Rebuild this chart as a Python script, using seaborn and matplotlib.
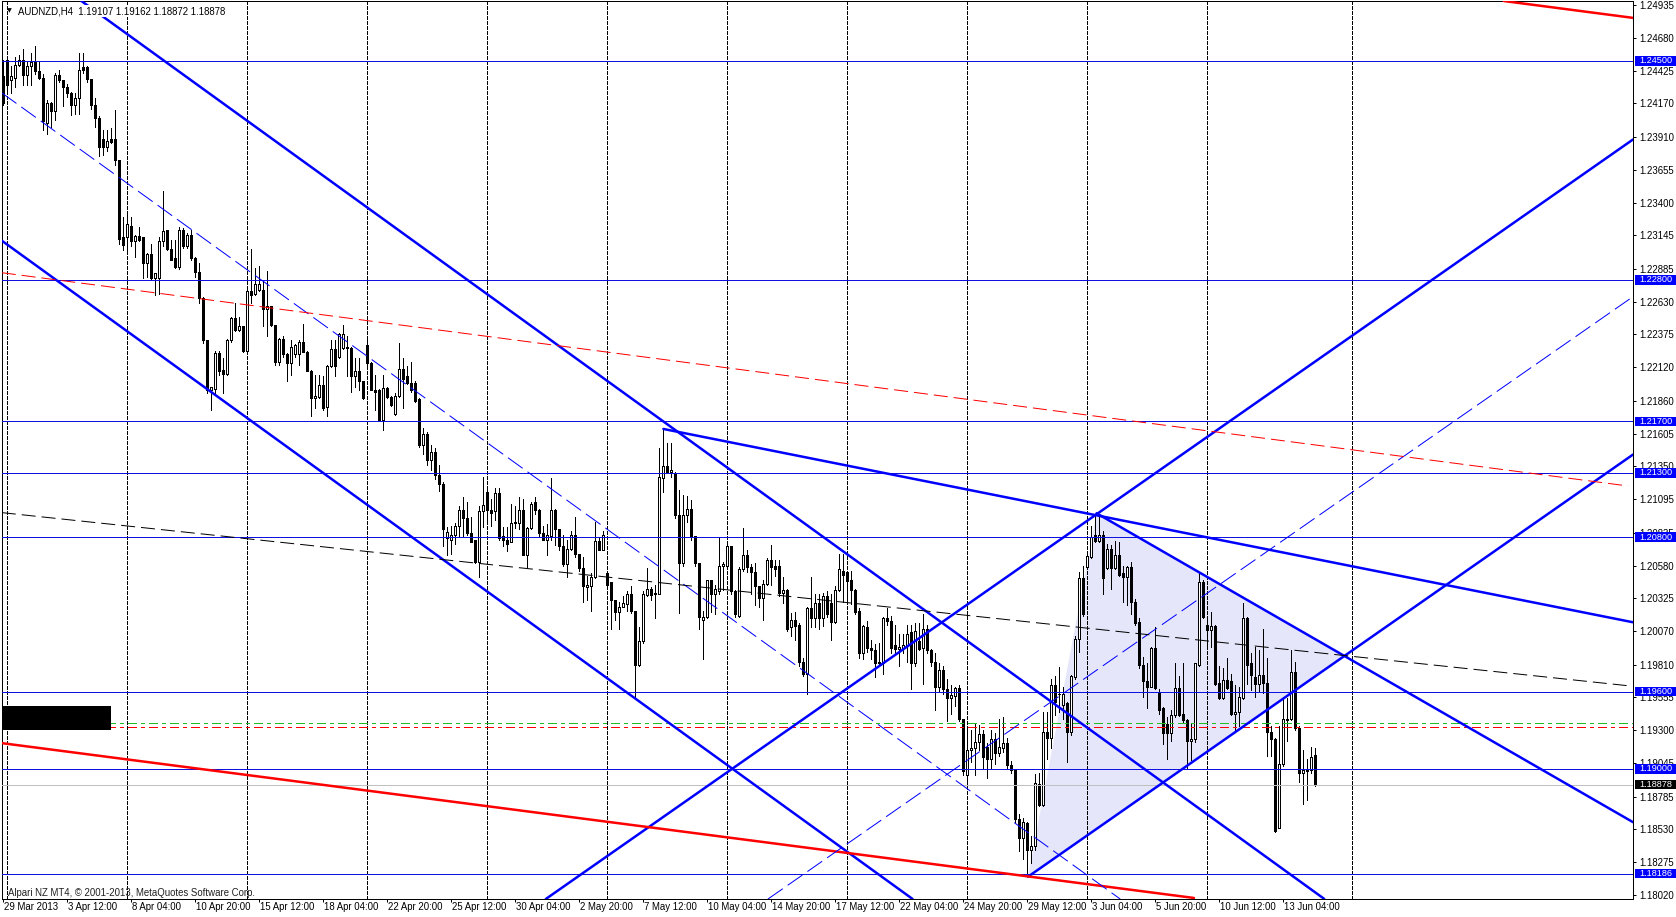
import numpy as np
import pandas as pd
import matplotlib
matplotlib.use("Agg")
import matplotlib.pyplot as plt
import matplotlib.transforms as mtransforms
from matplotlib.patches import Polygon, Rectangle
import seaborn as sns

# AUDNZD H4 candles, values in pips above BASE
BASE = 1.1800
opens = [
    638, 651, 635, 637, 647, 651, 639, 646, 649, 642,
    637, 602, 617, 611, 639, 635, 630, 625, 616, 621,
    645, 645, 636, 616, 606, 589, 583, 589, 589, 573,
    513, 513, 522, 510, 514, 513, 493, 500, 481, 481,
    510, 519, 504, 497, 490, 519, 506, 515, 497, 486,
    466, 433, 394, 395, 423, 410, 407, 433, 450, 441,
    444, 425, 471, 469, 472, 472, 457, 460, 445, 416,
    434, 422, 415, 422, 422, 432, 424, 409, 388, 389,
    398, 381, 413, 426, 420, 427, 428, 427, 405, 409,
    401, 429, 415, 394, 394, 371, 396, 389, 376, 390,
    411, 405, 400, 400, 387, 352, 360, 340, 346, 328,
    321, 279, 278, 282, 289, 301, 295, 283, 278, 261,
    300, 315, 301, 300, 314, 281, 278, 276, 292, 291,
    301, 266, 287, 307, 301, 283, 278, 281, 301, 286,
    273, 259, 271, 282, 267, 256, 241, 242, 249, 277,
    270, 252, 245, 231, 222, 226, 228, 236, 223, 181,
    199, 235, 240, 236, 236, 326, 335, 331, 330, 297,
    260, 297, 302, 281, 260, 216, 218, 247, 236, 238,
    258, 258, 273, 238, 219, 255, 266, 257, 253, 242,
    233, 244, 262, 258, 258, 237, 239, 210, 216, 212,
    183, 174, 225, 217, 229, 217, 234, 229, 214, 239,
    254, 253, 247, 239, 223, 190, 210, 194, 192, 182,
    182, 217, 215, 196, 193, 194, 196, 206, 182, 199,
    194, 209, 192, 183, 164, 177, 162, 155, 157, 163,
    139, 95, 115, 116, 121, 127, 117, 108, 123, 112,
    116, 120, 103, 99, 61, 46, 58, 37, 40, 88,
    72, 129, 124, 165, 158, 150, 151, 129, 171, 201,
    248, 257, 265, 282, 277, 282, 256, 271, 256, 266,
    252, 249, 257, 230, 214, 181, 168, 164, 194, 160,
    147, 135, 128, 142, 163, 143, 138, 122, 123, 181,
    245, 212, 208, 211, 167, 155, 169, 168, 143, 144,
    155, 217, 182, 171, 166, 173, 167, 129, 123, 54,
    104, 139, 139, 175, 132, 97, 98, 99, 111,
]
highs = [
    651, 653, 646, 653, 655, 659, 650, 656, 662, 650,
    640, 620, 618, 641, 643, 635, 632, 626, 625, 656,
    656, 646, 636, 621, 607, 596, 596, 598, 612, 573,
    529, 533, 529, 515, 521, 513, 501, 508, 485, 513,
    549, 519, 511, 511, 521, 520, 516, 519, 498, 493,
    467, 433, 397, 425, 425, 419, 434, 451, 462, 451,
    444, 472, 504, 489, 491, 480, 487, 460, 445, 435,
    436, 423, 433, 430, 433, 446, 425, 410, 406, 406,
    405, 414, 433, 433, 439, 445, 436, 428, 419, 419,
    401, 436, 416, 406, 395, 406, 397, 390, 392, 431,
    419, 413, 416, 401, 388, 365, 362, 352, 349, 336,
    323, 288, 289, 291, 304, 311, 307, 296, 278, 304,
    327, 319, 310, 318, 318, 288, 288, 306, 304, 311,
    310, 288, 307, 311, 302, 289, 290, 326, 302, 286,
    282, 278, 285, 296, 267, 265, 250, 252, 292, 280,
    285, 254, 245, 231, 230, 234, 238, 242, 223, 210,
    238, 256, 241, 243, 349, 364, 353, 353, 331, 317,
    313, 312, 309, 281, 260, 223, 247, 247, 243, 279,
    261, 277, 273, 239, 257, 287, 270, 259, 260, 242,
    247, 264, 274, 262, 262, 249, 240, 221, 222, 213,
    186, 226, 249, 236, 236, 237, 238, 236, 242, 267,
    267, 254, 254, 240, 225, 212, 215, 200, 197, 198,
    218, 225, 219, 212, 205, 205, 212, 212, 213, 213,
    220, 212, 193, 190, 182, 180, 170, 165, 164, 165,
    139, 133, 130, 135, 134, 130, 120, 130, 128, 139,
    140, 124, 106, 100, 65, 62, 59, 48, 96, 97,
    144, 144, 170, 172, 179, 164, 152, 173, 203, 253,
    258, 266, 289, 298, 296, 285, 275, 274, 277, 276,
    258, 258, 261, 232, 217, 187, 182, 195, 210, 162,
    148, 140, 146, 182, 172, 182, 139, 135, 182, 253,
    247, 218, 222, 212, 180, 178, 186, 174, 165, 164,
    229, 218, 190, 195, 192, 209, 186, 133, 124, 133,
    156, 155, 192, 183, 133, 115, 108, 117, 116,
]
lows = [
    616, 625, 625, 630, 646, 631, 631, 631, 640, 636,
    596, 593, 599, 604, 634, 615, 622, 608, 609, 609,
    641, 634, 613, 599, 576, 577, 580, 586, 569, 508,
    503, 503, 506, 498, 510, 481, 482, 480, 468, 469,
    506, 503, 495, 489, 488, 505, 505, 495, 482, 462,
    431, 392, 379, 392, 406, 392, 406, 432, 440, 440,
    424, 424, 462, 468, 471, 444, 436, 444, 414, 414,
    420, 401, 406, 420, 414, 424, 409, 374, 380, 388,
    379, 374, 412, 405, 419, 426, 405, 393, 397, 394,
    387, 414, 394, 379, 370, 363, 388, 382, 375, 389,
    380, 399, 393, 385, 350, 345, 336, 332, 325, 316,
    273, 266, 267, 275, 280, 280, 282, 276, 260, 249,
    288, 293, 289, 293, 278, 273, 269, 276, 287, 286,
    266, 257, 286, 298, 280, 278, 266, 278, 274, 270,
    258, 249, 270, 265, 254, 230, 231, 223, 248, 270,
    270, 243, 209, 216, 209, 226, 223, 221, 155, 180,
    198, 234, 231, 217, 236, 315, 330, 327, 295, 221,
    258, 292, 278, 258, 209, 185, 217, 222, 220, 236,
    239, 257, 236, 218, 218, 254, 253, 236, 227, 226,
    216, 243, 243, 250, 234, 229, 207, 203, 200, 180,
    172, 158, 210, 210, 209, 211, 218, 200, 213, 238,
    230, 229, 228, 220, 186, 185, 191, 185, 171, 180,
    174, 212, 190, 189, 180, 190, 183, 162, 180, 192,
    166, 190, 180, 146, 160, 158, 137, 143, 149, 137,
    95, 88, 105, 95, 115, 100, 93, 100, 104, 110,
    113, 100, 97, 59, 36, 30, 18, 27, 37, 71,
    71, 108, 116, 142, 144, 139, 105, 126, 170, 191,
    219, 256, 264, 276, 276, 236, 255, 240, 255, 250,
    230, 227, 220, 212, 178, 156, 147, 164, 162, 143,
    119, 108, 122, 140, 141, 136, 100, 107, 121, 180,
    217, 194, 195, 165, 154, 154, 162, 142, 130, 133,
    154, 166, 161, 156, 160, 159, 110, 110, 51, 54,
    102, 122, 138, 130, 90, 73, 76, 97, 87,
]
closes = [
    617, 631, 638, 647, 651, 639, 646, 649, 642, 637,
    603, 617, 611, 639, 635, 630, 625, 616, 621, 643,
    643, 636, 616, 606, 583, 583, 588, 587, 573, 512,
    507, 523, 510, 514, 511, 493, 500, 481, 485, 510,
    518, 504, 495, 490, 519, 506, 515, 497, 486, 466,
    433, 394, 397, 423, 409, 407, 433, 450, 441, 444,
    425, 471, 468, 477, 477, 457, 460, 445, 416, 434,
    422, 415, 428, 429, 432, 424, 409, 388, 390, 398,
    380, 413, 426, 413, 438, 438, 427, 405, 409, 401,
    388, 415, 394, 393, 371, 396, 389, 383, 390, 411,
    403, 400, 394, 386, 352, 360, 340, 346, 328, 321,
    286, 284, 282, 289, 301, 295, 283, 276, 261, 300,
    305, 301, 299, 314, 279, 278, 275, 291, 291, 301,
    266, 287, 306, 301, 283, 278, 282, 301, 286, 273,
    259, 271, 282, 267, 256, 242, 243, 249, 277, 270,
    282, 243, 231, 222, 226, 229, 236, 223, 181, 199,
    236, 240, 235, 237, 327, 335, 331, 332, 297, 260,
    297, 302, 280, 260, 218, 218, 247, 236, 240, 258,
    259, 273, 238, 220, 255, 266, 257, 253, 242, 233,
    244, 262, 257, 255, 237, 239, 209, 216, 211, 183,
    174, 225, 217, 229, 217, 234, 220, 214, 239, 255,
    251, 246, 239, 222, 190, 211, 194, 192, 182, 183,
    217, 215, 194, 193, 195, 196, 205, 182, 207, 193,
    209, 192, 183, 164, 177, 162, 155, 157, 163, 139,
    98, 115, 116, 121, 127, 109, 108, 123, 112, 117,
    120, 103, 99, 61, 46, 59, 37, 40, 89, 72,
    129, 124, 165, 152, 158, 158, 129, 172, 201, 248,
    220, 265, 280, 277, 282, 248, 271, 256, 266, 251,
    249, 257, 230, 213, 181, 168, 164, 194, 163, 146,
    128, 128, 142, 163, 142, 138, 122, 123, 182, 245,
    218, 208, 211, 166, 155, 169, 163, 143, 144, 156,
    217, 181, 173, 166, 173, 167, 129, 123, 52, 104,
    139, 138, 175, 132, 97, 99, 99, 109, 88,
]

# trend lines: (bar1, price1, bar2, price2)
blue_thick = [
    (19.6, 1.24966, 330.3, 1.17990),
    (-0.3, 1.23104, 227.4, 1.17989),
    (273.4, 1.20986, 407.5, 1.18586),
    (165.1, 1.21641, 407.5, 1.20139),
    (135.7, 1.17989, 407.5, 1.23890),
    (256.25, 1.18162, 407.5, 1.21442),
]
blue_dashed = [
    (-0.3, 1.24252, 279.3, 1.17989),
    (191.25, 1.17989, 407.0, 1.22658),
]
red_thick = [
    (-0.3, 1.19200, 297.75, 1.17997),
    (375.2, 1.24966, 407.5, 1.24835),
]
red_dashed = (-0.3, 1.22855, 406.25, 1.21198)
black_dashed = (-0.3, 1.20991, 406.25, 1.19646)
triangle = [(256.25, 1.18162), (273.4, 1.20986), (335.15, 1.19879)]

h_levels = [1.2450, 1.2280, 1.2170, 1.2130, 1.2080, 1.1960, 1.1900, 1.18186]
bid = 1.18878
green_dashdot = 1.19356
red_dashdot = 1.19325
black_box = (-0.3, 27.0, 1.19302, 1.19492)

week_bars = [1, 31, 61, 91, 121, 151, 181, 211, 241, 271, 301, 337.25]
xtick_bars = [16 * k for k in range(21)]
xtick_labels = ["29 Mar 2013", "3 Apr 12:00", "8 Apr 04:00", "10 Apr 20:00",
                "15 Apr 12:00", "18 Apr 04:00", "22 Apr 20:00", "25 Apr 12:00",
                "30 Apr 04:00", "2 May 20:00", "7 May 12:00", "10 May 04:00",
                "14 May 20:00", "17 May 12:00", "22 May 04:00", "24 May 20:00",
                "29 May 12:00", "3 Jun 04:00", "5 Jun 20:00", "10 Jun 12:00",
                "13 Jun 04:00"]
yticks = [1.24935, 1.24680, 1.24425, 1.24170, 1.23910, 1.23655, 1.23400,
          1.23145, 1.22885, 1.22630, 1.22375, 1.22120, 1.21860, 1.21605,
          1.21350, 1.21095, 1.20835, 1.20580, 1.20325, 1.20070, 1.19810,
          1.19555, 1.19300, 1.19045, 1.18785, 1.18530, 1.18275, 1.18020]

W, H = 1676, 917
PX = 0.72  # one pixel in points

sns.set_theme(style="white")
plt.rcParams["font.family"] = ["Liberation Sans", "DejaVu Sans"]
plt.rcParams["lines.scale_dashes"] = False
FS = 6.9

fig = plt.figure(figsize=(W / 100, H / 100), dpi=100)
fig.patch.set_facecolor("white")
ax = fig.add_axes([2 / W, (H - 899) / H, (1633 - 2) / W, (899 - 1) / H])
ax.set_facecolor("white")

o = BASE + np.array(opens) / 1e4
hi = BASE + np.array(highs) / 1e4
lo = BASE + np.array(lows) / 1e4
c = BASE + np.array(closes) / 1e4
idx = np.arange(len(c))

# triangle (background)
ax.add_patch(Polygon(triangle, closed=True, facecolor="#E6E6FA", edgecolor="none", zorder=0.8))

# weekly grid
for b in week_bars:
    ax.axvline(b, color="black", lw=PX, linestyle=(0, (3 * PX, 2 * PX)), zorder=1,
               antialiased=False)

# candles
ax.vlines(idx, lo, hi, color="black", lw=PX, zorder=3, antialiased=False)
up = c >= o
ax.bar(idx, np.abs(c - o) + 1e-6, bottom=np.minimum(o, c), width=0.5,
       color=np.where(up, "white", "black"), edgecolor="black", linewidth=PX,
       zorder=4, antialiased=False)

# horizontal levels
for lvl in h_levels:
    ax.axhline(lvl, color="#1010E0", lw=PX, zorder=5, antialiased=False)
ax.axhline(bid, color="#C0C0C0", lw=PX, zorder=5, antialiased=False)
ax.axhline(green_dashdot, color="#22BB22", lw=PX, zorder=5,
           linestyle=(0, (9 * PX, 5 * PX, 3 * PX, 5 * PX)), antialiased=False)
ax.axhline(red_dashdot, color="red", lw=PX, zorder=5,
           linestyle=(0, (9 * PX, 5 * PX, 3 * PX, 5 * PX)), antialiased=False)

# trend lines
for b1, p1, b2, p2 in blue_thick:
    sns.lineplot(x=[b1, b2], y=[p1, p2], ax=ax, color="blue", lw=2.5 * PX,
                 estimator=None, sort=False, zorder=6)
for b1, p1, b2, p2 in red_thick:
    sns.lineplot(x=[b1, b2], y=[p1, p2], ax=ax, color="red", lw=2.5 * PX,
                 estimator=None, sort=False, zorder=6)
for b1, p1, b2, p2 in blue_dashed:
    sns.lineplot(x=[b1, b2], y=[p1, p2], ax=ax, color="blue", lw=PX,
                 linestyle=(0, (18 * PX, 6 * PX)), estimator=None, sort=False, zorder=6)
for (b1, p1, b2, p2), col in [(red_dashed, "red"), (black_dashed, "black")]:
    sns.lineplot(x=[b1, b2], y=[p1, p2], ax=ax, color=col, lw=PX,
                 linestyle=(0, (14 * PX, 6 * PX)), estimator=None, sort=False, zorder=6)

x0, x1, y0, y1 = black_box
ax.add_patch(Rectangle((x0, y0), x1 - x0, y1 - y0, facecolor="black", edgecolor="none", zorder=7))

ax.set_xlim(-0.25, 407.5)
ax.set_ylim(1.17989, 1.24966)
ax.set_xlabel("")
ax.set_ylabel("")

# axes
for sp in ax.spines.values():
    sp.set_color("black")
    sp.set_linewidth(PX)
ax.yaxis.tick_right()
ax.set_yticks(yticks)
ax.set_yticklabels([f"{v:.5f}" for v in yticks])
ax.set_xticks(xtick_bars)
ax.set_xticklabels(xtick_labels)
ax.tick_params(axis="y", right=True, left=False, labelright=True, labelleft=False,
               direction="out", length=3 * PX, width=PX, pad=3.5 * PX,
               labelsize=FS, colors="black")
ax.tick_params(axis="x", bottom=True, direction="out", length=3 * PX, width=PX,
               pad=0.3, labelsize=FS, colors="black")
shift = mtransforms.ScaledTranslation(1 / 100, 0, fig.dpi_scale_trans)
for lab in ax.get_xticklabels():
    lab.set_horizontalalignment("left")
    lab.set_transform(lab.get_transform() + shift)

# price tags on the right scale
tag_tr = mtransforms.blended_transform_factory(fig.transFigure, ax.transData)
half = 4.8 * (1.24966 - 1.17989) / 898
tags = [(lvl, "#0000FF") for lvl in h_levels] + [(bid, "black")]
for lvl, col in tags:
    ax.add_patch(Rectangle((1635 / W, lvl - half), 41 / W, 2 * half, transform=tag_tr,
                           facecolor=col, edgecolor="none", clip_on=False, zorder=8))
    ax.text(1655.5 / W, lvl, f"{lvl:.5f}", transform=tag_tr, color="white", fontsize=6.6,
            va="center", ha="center", clip_on=False, zorder=9)

# header and footer text
fig.text(7 / W, 1 - 11 / H, "\u25BC", fontsize=4.5, color="black", va="center", ha="left",
         family=["DejaVu Sans"], zorder=10)
fig.text(18 / W, 1 - 11 / H, "AUDNZD,H4  1.19107 1.19162 1.18872 1.18878", fontsize=FS,
         color="black", va="center", ha="left", zorder=10,
         bbox=dict(facecolor="white", edgecolor="none", pad=0.5))
fig.text(8 / W, 1 - 893 / H, "Alpari NZ MT4, \u00A9 2001-2013, MetaQuotes Software Corp.",
         fontsize=FS, color="#202020", va="center", ha="left", zorder=10)

fig.savefig("out.png", dpi=100, facecolor="white")
